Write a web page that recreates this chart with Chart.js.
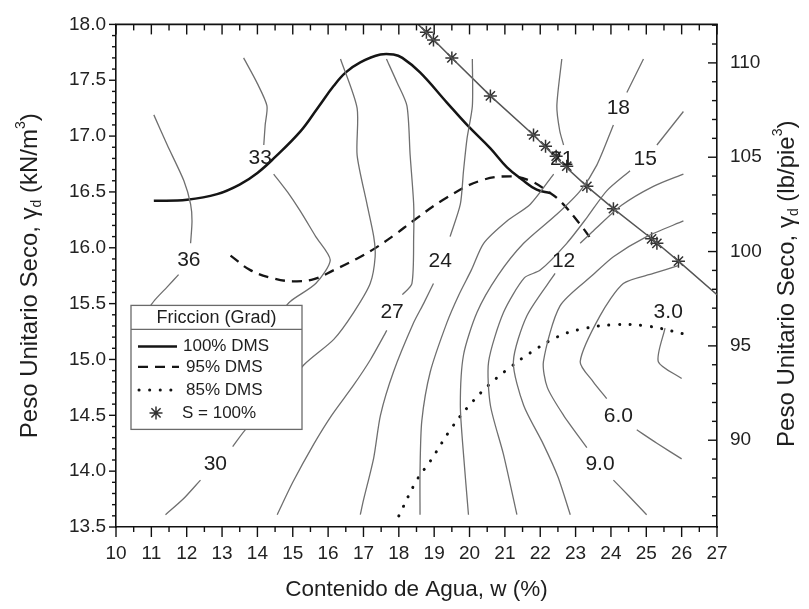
<!DOCTYPE html>
<html><head><meta charset="utf-8">
<script src="https://cdn.jsdelivr.net/npm/chart.js@4.4.1/dist/chart.umd.min.js"></script>
<style>html,body{margin:0;padding:0;background:#fff;}#wrap{width:809px;height:609px;}</style>
</head><body><div id="wrap"><canvas id="c" width="809" height="609"></canvas></div>
<script>
// ---------- DATA ----------
const xTickValues = [10,11,12,13,14,15,16,17,18,19,20,21,22,23,24,25,26,27];
const yTickValues = [13.5,14.0,14.5,15.0,15.5,16.0,16.5,17.0,17.5,18.0];
const y2TickValues = [90,95,100,105,110];
const xRange = [10,27];
const yRange = [13.5,18.0];
const y2Range = [85.4,112.04];

// compaction curves (w %, gamma_d kN/m3)
const dms100 = [[11.07,16.42],[12.01,16.43],[12.86,16.48],[13.52,16.57],[14.0,16.67],[14.46,16.80],[15.21,17.04],[15.7,17.25],[16.16,17.45],[16.5,17.57],[16.91,17.66],[17.48,17.73],[17.85,17.73],[18.1,17.70],[18.6,17.57],[19.36,17.30],[19.93,17.10],[20.59,16.89],[21.06,16.72],[21.53,16.60],[21.9,16.52],[22.28,16.49]];
const dms95 = [[13.24,15.93],[13.8,15.80],[14.4,15.73],[15.0,15.70],[15.6,15.72],[16.16,15.80],[16.8,15.90],[17.3,15.99],[17.9,16.12],[18.4,16.24],[19.36,16.45],[20.3,16.60],[21.15,16.64],[21.72,16.60],[22.19,16.51],[22.56,16.42],[23.13,16.21],[23.5,16.05]];
const dms85 = [[18.0,13.6],[18.51,13.92],[18.89,14.09],[19.5,14.39],[19.97,14.58],[20.54,14.77],[21.15,14.93],[21.72,15.06],[22.47,15.20],[23.13,15.27],[24.07,15.31],[25.01,15.30],[26.05,15.23]];
const satLine = [[18.55,18.0],[19.5,17.70],[20.59,17.36],[21.81,17.01],[22.56,16.77],[23.32,16.55],[24.07,16.35],[25.2,16.07],[25.91,15.88],[27.0,15.58]];
const satStars = [[18.78,17.93],[18.98,17.86],[19.5,17.70],[20.59,17.36],[21.81,17.01],[22.15,16.91],[22.45,16.82],[22.75,16.73],[23.32,16.55],[24.07,16.35],[25.15,16.08],[25.3,16.04],[25.91,15.88]];

// friction angle contours (null = break for label)
const c36 = [[11.07,17.19],[11.45,16.92],[11.92,16.60],[12.11,16.39],[12.15,16.24],[12.11,16.04],null,[11.77,15.76],[11.45,15.65],[11.12,15.54],[10.9,15.45]];
const c33 = [[13.61,17.70],[14.0,17.47],[14.27,17.27],[14.22,17.1],[14.18,16.92],null,[14.46,16.66],[14.85,16.5],[15.21,16.33],[15.65,16.1],[16.06,15.89],[15.65,15.68],[14.93,15.52],[14.6,15.4]];
const c30 = [[16.35,17.69],[16.82,17.25],[16.82,16.83],[17.1,16.39],[17.29,16.10],[17.33,15.92],[17.19,15.68],[16.72,15.42],[16.16,15.18],[15.31,14.95],[14.5,14.62],[13.71,14.39],[13.3,14.22],null,[12.39,13.92],[11.9,13.75],[11.4,13.61]];
const c27 = [[17.65,17.69],[17.95,17.48],[18.23,17.27],[18.32,16.83],[18.42,16.39],[18.42,16.10],[18.37,15.68],[18.1,15.58],null,[17.66,15.26],[17.2,15.0],[16.72,14.77],[16.1,14.5],[15.59,14.24],[15.0,13.9],[14.56,13.61]];
const c24 = [[20.08,17.69],[20.08,17.27],[19.93,16.98],[19.83,16.69],[19.74,16.39],[19.45,16.10],null,[18.98,15.68],[18.7,15.5],[18.42,15.33],[17.85,14.89],[17.48,14.5],[17.29,14.12],[17.0,13.74],[16.91,13.61]];
const c21 = [[22.61,17.69],[22.47,17.27],[22.55,17.05],[22.66,16.92],null,[22.38,16.66],[21.72,16.39],[21.06,16.24],[20.4,16.04],[20.05,15.8],[19.7,15.58],[19.36,15.33],[18.89,14.89],[18.65,14.45],[18.6,14.0],[18.6,13.61]];
const c18 = [[24.92,17.69],[24.45,17.39],null,[24.07,17.10],[23.6,16.74],[23.13,16.51],[22.47,16.30],[21.53,16.04],[20.8,15.75],[20.21,15.42],[19.83,15.04],[19.74,14.59],[19.83,14.15],[19.97,13.61]];
const c15 = [[26.05,17.22],[25.3,16.92],null,[24.54,16.69],[23.88,16.51],[23.32,16.27],[22.75,16.04],[22.0,15.80],[21.55,15.73],[20.96,15.42],[20.54,14.98],[20.59,14.59],[20.96,14.15],[21.34,13.61]];
const c12 = [[26.05,16.66],[25.2,16.55],[24.3,16.38],[23.5,16.15],[23.13,16.04],null,[22.42,15.77],[21.62,15.39],[21.24,14.98],[21.53,14.59],[22.09,14.24],[22.5,13.95],[22.85,13.61]];
const c9 = [[26.05,16.24],[25.01,16.10],[24.07,15.92],[23.5,15.76],[22.56,15.48],[22.09,14.98],[22.2,14.75],[22.66,14.5],[23.32,14.21],null,[24.07,13.92],[24.5,13.78],[25.01,13.61]];
const c6 = [[25.9,15.84],[25.2,15.77],[24.35,15.68],[23.69,15.39],[23.13,14.98],[23.5,14.8],[23.88,14.65],null,[24.73,14.37],[25.3,14.25],[26.0,14.11]];
const c3 = [[25.53,15.28],[25.34,14.98],[26.0,14.83]];
const contours = [c36,c33,c30,c27,c24,c21,c18,c15,c12,c9,c6,c3];
const contourLabels = [["36",12.06,15.89],["33",14.08,16.80],["30",12.81,14.06],["27",17.81,15.42],["24",19.17,15.88],["21",22.61,16.79],["18",24.21,17.25],["15",24.97,16.79],["12",22.66,15.88],["9.0",23.69,14.06],["6.0",24.21,14.49],["3.0",25.62,15.42]];

const legendTitle = "Friccion (Grad)";
const legendItems = ["100% DMS","95% DMS","85% DMS","S = 100%"];
const xTitle = [{t:"Contenido de Agua, w (%)"}];
const yTitle = [{t:"Peso Unitario Seco, γ"},{t:"d",sub:true},{t:" (kN/m"},{t:"3",sup:true},{t:")"}];
const y2Title = [{t:"Peso Unitario Seco, γ"},{t:"d",sub:true},{t:" (lb/pie"},{t:"3",sup:true},{t:")"}];

// ---------- CHART ----------
const FONT = '"Liberation Sans", Arial, Helvetica, sans-serif';
const toXY = arr => arr.map(p => p ? {x:p[0], y:p[1]} : {x:null, y:null});

const datasets = [];
contours.forEach(c => datasets.push({data:toXY(c), showLine:true, borderColor:'#6f6f6f', borderWidth:1.3, pointRadius:0, tension:0.25, fill:false}));
datasets.push({data:toXY(satLine), showLine:true, borderColor:'#555', borderWidth:1.5, pointRadius:0, tension:0});
datasets.push({data:toXY(dms100), showLine:true, borderColor:'#151515', borderWidth:2.5, pointRadius:0, tension:0.4});
datasets.push({data:toXY(dms95), showLine:true, borderColor:'#151515', borderWidth:2.3, borderDash:[10,7], pointRadius:0, tension:0.4});
datasets.push({data:toXY(dms85), showLine:true, borderColor:'#111', borderWidth:3, borderDash:[0.1,10.5], borderCapStyle:'round', pointRadius:0, tension:0.4});
datasets.push({data:toXY(satStars), showLine:false, pointStyle:'star', pointRadius:6.5, borderColor:'#333', pointBorderColor:'#333', pointBorderWidth:1.5, backgroundColor:'#333'});

function richText(ctx, segs, cx, cy, rot, size){
  ctx.save(); ctx.translate(cx, cy); ctx.rotate(rot);
  ctx.textBaseline = 'middle'; ctx.textAlign = 'left'; ctx.fillStyle = '#1e1e1e';
  const f = s => ((s.sub||s.sup) ? Math.round(size*0.6) : size) + 'px ' + FONT;
  let total = 0;
  segs.forEach(s => { ctx.font = f(s); s.w = ctx.measureText(s.t).width; total += s.w; });
  let xx = -total/2;
  segs.forEach(s => { ctx.font = f(s); const dy = s.sub ? size*0.3 : (s.sup ? -size*0.38 : 0); ctx.fillText(s.t, xx, dy); xx += s.w; });
  ctx.restore();
}

const deco = {
  id:'deco',
  afterDatasetsDraw(chart){
    const {ctx, scales:{x, y}} = chart;
    ctx.save();
    ctx.font = '21px ' + FONT; ctx.fillStyle = '#1e1e1e';
    ctx.textAlign = 'center'; ctx.textBaseline = 'middle';
    contourLabels.forEach(([t,w,g]) => ctx.fillText(t, x.getPixelForValue(w), y.getPixelForValue(g)));
    ctx.restore();
  },
  afterDraw(chart){
    const {ctx, chartArea:a, scales:{x, y, y2}} = chart;
    ctx.save();
    const line = (x1,y1,x2,y2_) => { ctx.beginPath(); ctx.moveTo(x1,y1); ctx.lineTo(x2,y2_); ctx.stroke(); };
    ctx.strokeStyle = '#111'; ctx.lineWidth = 1.6;
    line(a.left-0.8, a.top, a.right+0.8, a.top);
    ctx.lineWidth = 1.4;
    for (let v = xRange[0]; v <= xRange[1] + 1e-9; v += 0.5) {
      const p = x.getPixelForValue(v); const major = Math.abs(v - Math.round(v)) < 1e-6;
      line(p, a.bottom, p, a.bottom + (major ? 10 : 5));
      line(p, a.top, p, a.top + (major ? 10 : 6));
    }
    for (let i = 0; i <= 45; i++) {
      const v = yRange[0] + i*0.1; const p = y.getPixelForValue(v); const major = i % 5 === 0;
      line(a.left - (major ? 7 : 4), p, a.left, p);
    }
    for (let v = Math.ceil(y2Range[0]); v <= y2Range[1]; v += 1) {
      const p = y2.getPixelForValue(v); const major = v % 5 === 0;
      line(a.right - (major ? 9 : 5), p, a.right, p);
    }
    // legend
    const L = a.left + 15, T = a.top + 281, W = 171, H = 124, HD = 24;
    ctx.fillStyle = '#fff'; ctx.fillRect(L, T, W, H);
    ctx.strokeStyle = '#6a6a6a'; ctx.lineWidth = 1.3; ctx.strokeRect(L, T, W, H);
    line(L, T + HD, L + W, T + HD);
    ctx.fillStyle = '#1e1e1e'; ctx.textBaseline = 'middle';
    ctx.font = '18px ' + FONT; ctx.textAlign = 'center';
    ctx.fillText(legendTitle, L + W/2, T + 12.5);
    ctx.font = '17px ' + FONT; ctx.textAlign = 'left';
    const rows = [41, 61.5, 84.5, 107.5];
    const tx = [52, 55, 55, 51];
    ctx.strokeStyle = '#151515';
    ctx.lineWidth = 2.5; ctx.setLineDash([]); line(L+7, T+rows[0], L+46, T+rows[0]);
    ctx.lineWidth = 2.3; ctx.setLineDash([10,7]); line(L+7, T+rows[1], L+48, T+rows[1]);
    ctx.lineWidth = 3; ctx.lineCap = 'round'; ctx.setLineDash([0.1,10.5]); line(L+8, T+rows[2], L+48, T+rows[2]);
    ctx.setLineDash([]); ctx.lineCap = 'butt';
    ctx.strokeStyle = '#333'; ctx.fillStyle = '#333'; ctx.lineWidth = 1.5;
    Chart.helpers.drawPoint(ctx, {pointStyle:'star', radius:6.5, borderWidth:1.5}, L + 25, T + rows[3]);
    ctx.fillStyle = '#1e1e1e';
    legendItems.forEach((t, i) => ctx.fillText(t, L + tx[i], T + rows[i]));
    ctx.restore();
    // axis titles
    richText(ctx, xTitle, (a.left + a.right)/2, 590, 0, 22.5);
    richText(ctx, yTitle, 30, (a.top + a.bottom)/2, -Math.PI/2, 24);
    richText(ctx, y2Title, 787, (a.top + a.bottom)/2 + 8, -Math.PI/2, 24);
  }
};

const tickFont = {family: FONT, size: 19};
new Chart(document.getElementById('c'), {
  type: 'scatter',
  data: {datasets},
  options: {
    responsive: false, animation: false, devicePixelRatio: 1,
    layout: {padding: {top: 18, left: 0, right: 0, bottom: 0}},
    plugins: {legend: {display: false}, tooltip: {enabled: false}},
    scales: {
      x: {type:'linear', position:'bottom', min:xRange[0], max:xRange[1],
          afterBuildTicks: s => { s.ticks = xTickValues.map(v => ({value:v})); },
          afterFit: s => { s.height = 82; },
          grid: {display:false, drawTicks:false},
          border: {display:true, color:'#111', width:1.6},
          ticks: {font:tickFont, color:'#222', padding:15, maxRotation:0, autoSkip:false, callback: v => String(v)}},
      y: {type:'linear', position:'left', min:yRange[0], max:yRange[1],
          afterBuildTicks: s => { s.ticks = yTickValues.map(v => ({value:v})); },
          afterFit: s => { s.width = 116; },
          grid: {display:false, drawTicks:false},
          border: {display:true, color:'#111', width:1.6},
          ticks: {font:tickFont, color:'#222', padding:10, autoSkip:false, callback: v => Number(v).toFixed(1)}},
      y2: {type:'linear', position:'right', min:y2Range[0], max:y2Range[1],
          afterBuildTicks: s => { s.ticks = y2TickValues.map(v => ({value:v})); },
          afterFit: s => { s.width = 92; },
          grid: {display:false, drawTicks:false},
          border: {display:true, color:'#111', width:1.6},
          ticks: {font:tickFont, color:'#222', padding:13, autoSkip:false, callback: v => String(v)}}
    }
  },
  plugins: [deco]
});
</script></body></html>
